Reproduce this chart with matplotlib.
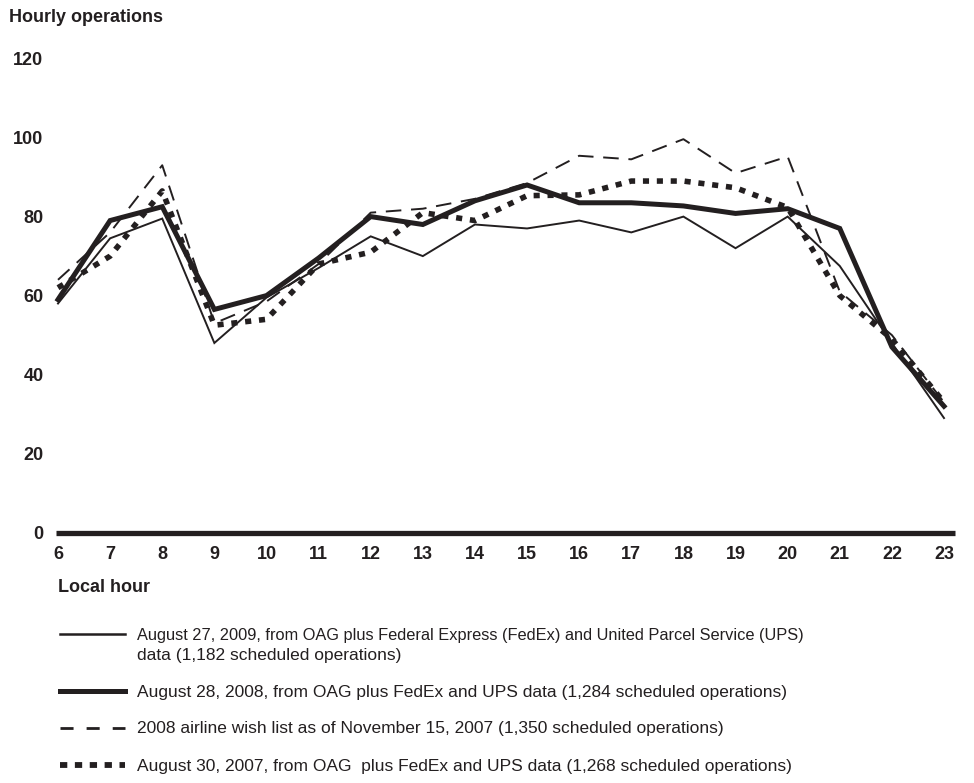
import matplotlib
matplotlib.use("Agg")
import matplotlib.pyplot as plt
from matplotlib.lines import Line2D

plt.rcParams['font.family'] = ['Liberation Sans', 'DejaVu Sans']

# data
hours = list(range(6, 24))
ops_2009 = [58, 74.5, 79.5, 48, 59.5, 67, 75, 70, 78, 77, 79, 76, 80, 72, 80, 67.5, 48, 29]
ops_2008 = [59, 79, 82.5, 56.5, 60, 69.5, 80, 78, 84, 88, 83.5, 83.5, 82.7, 80.8, 82, 77, 47, 32]
wish_2008 = [64, 76, 93, 53, 58.5, 68, 81, 82, 84.5, 88.5, 95.4, 94.5, 99.6, 91, 95.2, 61, 50, 33]
ops_2007 = [62, 70, 86.5, 52.5, 54, 68, 71, 81, 79, 85.3, 85.5, 89, 89, 87.3, 82.3, 60, 49, 33]
y_ticks = [0, 20, 40, 60, 80, 100, 120]

legend_labels = [
    ["August 27, 2009, from OAG plus Federal Express (FedEx) and United Parcel Service (UPS)",
     "data (1,182 scheduled operations)"],
    ["August 28, 2008, from OAG plus FedEx and UPS data (1,284 scheduled operations)"],
    ["2008 airline wish list as of November 15, 2007 (1,350 scheduled operations)"],
    ["August 30, 2007, from OAG  plus FedEx and UPS data (1,268 scheduled operations)"],
]

ink = '#231f20'
W, H = 974, 783

fig = plt.figure(figsize=(W / 100, H / 100), dpi=100)
ax = fig.add_axes([56 / W, (H - 532.6) / H, 899 / W, 474 / H])

# series styles
styles = [
    dict(lw=1.4, ls='-', solid_joinstyle='miter'),
    dict(lw=3.6, ls='-', solid_joinstyle='miter'),
    dict(lw=1.4, ls=(0, (8, 5)), dash_capstyle='butt'),
    dict(lw=4.0, ls=(0, (1.1, 1.4)), dash_capstyle='butt'),
]
series = [ops_2009, ops_2008, wish_2008, ops_2007]
for vals, st in zip(series, styles):
    ax.plot(hours, vals, color=ink, clip_on=False, **st)

ax.axhline(0, color=ink, lw=3.8, solid_capstyle='butt', zorder=1, clip_on=False)

ax.set_xlim(6 - 2 / 52.12, 23 + 11 / 52.12)
ax.set_ylim(0, 120)
ax.set_xticks(hours)
ax.set_yticks(y_ticks)
for s in ax.spines.values():
    s.set_visible(False)
ax.tick_params(axis='both', length=0, labelsize=13, labelcolor=ink)
ax.tick_params(axis='x', pad=10)
ax.tick_params(axis='y', pad=9)
for lab in ax.get_xticklabels() + ax.get_yticklabels():
    lab.set_fontweight('bold')

fig.text(9 / W, 1 - 21.7 / H, "Hourly operations", fontsize=13, fontweight='bold',
         color=ink, va='baseline', ha='left')
fig.text(58 / W, 1 - 588 / H, "Local hour", fontsize=13, fontweight='bold',
         color=ink, va='center', ha='left')

# legend drawn by hand under the chart
leg_styles = [
    dict(lw=1.8, ls='-'),
    dict(lw=3.6, ls='-'),
    dict(lw=2.0, ls=(0, (4.7, 4.7)), dash_capstyle='butt'),
    dict(lw=4.2, ls=(0, (1.25, 1.3)), dash_capstyle='butt'),
]
leg_y = [633.7, 691, 727.5, 764.5]
for y, st, labels in zip(leg_y, leg_styles, legend_labels):
    fig.add_artist(Line2D([60 / W, 125 / W], [1 - y / H, 1 - y / H],
                          transform=fig.transFigure, color=ink, **st))
    for i, txt in enumerate(labels):
        size = 11.8 if len(txt) > 82 else 12.5
        fig.text(137 / W, 1 - (y + 6 + 20 * i) / H, txt, fontsize=size,
                 color=ink, va='baseline', ha='left')

fig.savefig("out.png", dpi=100)
